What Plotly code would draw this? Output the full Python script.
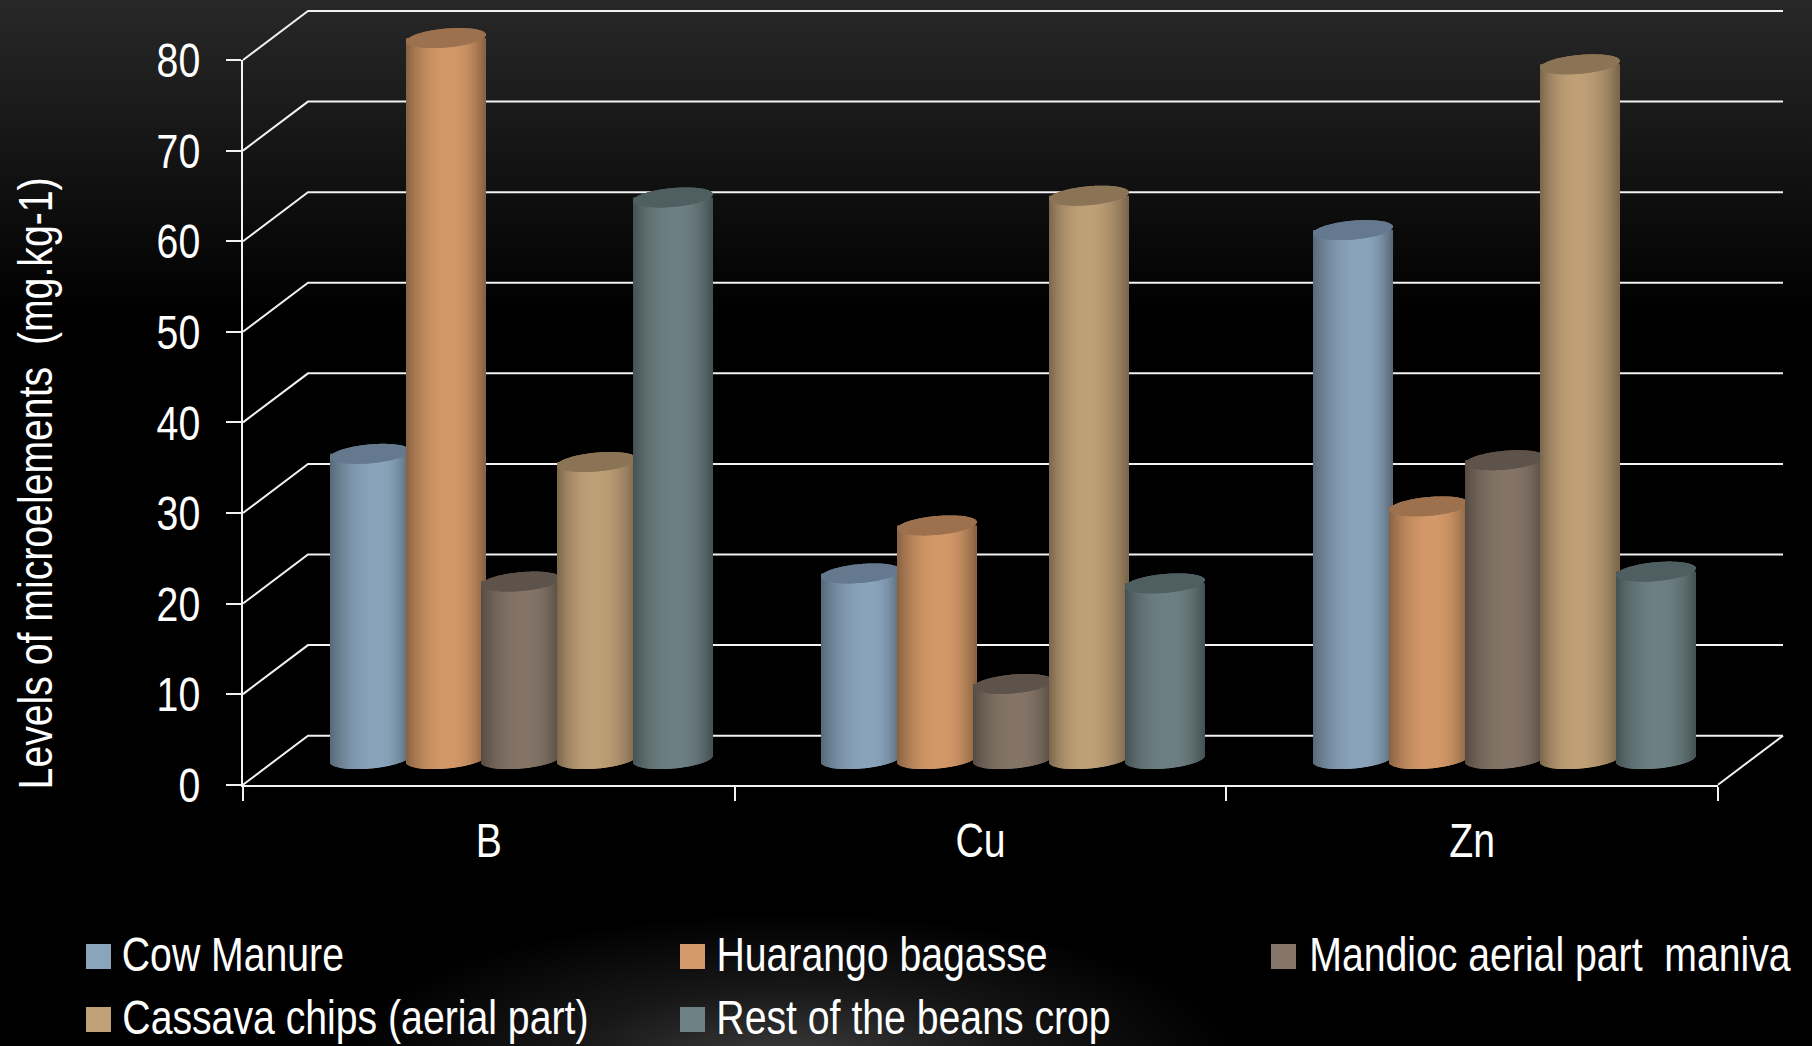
import numpy as np
import plotly.graph_objects as go

# Chart data
categories = ["B", "Cu", "Zn"]
series_names = [
    "Cow Manure",
    "Huarango bagasse",
    "Mandioc aerial part  maniva",
    "Cassava chips (aerial part)",
    "Rest of the beans crop",
]
cow_manure = [33.7, 20.5, 58.4]
huarango_bagasse = [79.6, 25.8, 27.9]
mandioc_maniva = [19.6, 8.3, 33.0]
cassava_chips = [32.8, 62.2, 76.7]
beans_crop = [62.0, 19.4, 20.7]
y_ticks = list(range(0, 90, 10))

series_values = [cow_manure, huarango_bagasse, mandioc_maniva, cassava_chips, beans_crop]
body_rgb = [(138, 164, 188), (212, 153, 104), (133, 117, 104), (191, 160, 119), (109, 128, 131)]
cap_rgb = [(100, 121, 142), (157, 113, 78), (94, 83, 74), (139, 116, 86), (79, 95, 97)]

# Page and plot geometry in pixels
W, H = 1812, 1046
X0, X3 = 243.0, 1718.0
Y80, Y0 = 60.0, 784.7
DEPTH_X, DEPTH_Y = 65.0, 49.0
PX_PER_CAT = (X3 - X0) / 3
PX_PER_UNIT = (Y0 - Y80) / 80
dx_cat = DEPTH_X / PX_PER_CAT
dy_val = DEPTH_Y / PX_PER_UNIT

# Page-wide data ranges, so walls and cylinders can sit beyond the axis box
page_x_range = [-X0 / PX_PER_CAT, (W - X0) / PX_PER_CAT]
page_y_range = [-(H - Y0) / PX_PER_UNIT, Y0 / PX_PER_UNIT]

# Cylinder footprint: a circle on the sheared floor
SPACING = 75.8 / PX_PER_CAT
HALF_W, HALF_DX, HALF_DY = 37.2, 13.3, 10.0
STRIP_PX = 1.0


def ellipse_edges():
    """Lower and upper outline of the floor ellipse, in pixels from its centre."""
    t0 = np.arctan2(HALF_DX, HALF_W)
    t = np.linspace(t0 + np.pi, t0 + 2 * np.pi, 400)
    xl = HALF_W * np.cos(t) + HALF_DX * np.sin(t)
    yl = HALF_DY * np.sin(t)
    half = np.hypot(HALF_W, HALF_DX)
    u = np.arange(-half + STRIP_PX / 2, half, STRIP_PX)
    lower = np.interp(u, xl, yl)
    upper = np.interp(-u, xl, yl) * -1
    return u, lower, upper


U, LOWER, UPPER = ellipse_edges()
HALF = np.hypot(HALF_W, HALF_DX)


def shade(rgb, peak):
    """Horizontal cylinder shading: dark rims and a soft highlight."""
    s = (U + HALF) / (2 * HALF)
    d = np.where(s < peak, (peak - s) / peak, (s - peak) / (1 - peak))
    f = 0.64 + 0.36 * (1 - d ** 2.2)
    return [f"rgb({int(rgb[0] * v)},{int(rgb[1] * v)},{int(rgb[2] * v)})" for v in f]


fig = go.Figure()

# Back wall, side wall and floor rules, all in value units
for v in y_ticks:
    fig.add_trace(go.Scatter(
        x=[0, dx_cat, 3 + dx_cat], y=[v, v + dy_val, v + dy_val],
        mode="lines", line=dict(color="#f2f2f2", width=2),
        showlegend=False, hoverinfo="skip", xaxis="x", yaxis="y",
    ))
fig.add_trace(go.Scatter(
    x=[3, 3 + dx_cat], y=[0, dy_val], mode="lines",
    line=dict(color="#f2f2f2", width=2),
    showlegend=False, hoverinfo="skip", xaxis="x", yaxis="y",
))

# Cylinders, painted left to right so each one overlaps its left neighbour
centre_lift = dy_val / 2 + 0.12
peaks = [0.62, 0.55, 0.55, 0.47, 0.55]
for c in range(len(categories)):
    for k, values in enumerate(series_values):
        value = values[c]
        cx = c + 0.5 + dx_cat / 2 + (k - 2) * SPACING
        xs = cx + U / PX_PER_CAT
        top = centre_lift + value
        base = centre_lift + LOWER / PX_PER_UNIT
        fig.add_trace(go.Bar(
            x=xs, y=top - base, base=base, width=STRIP_PX / PX_PER_CAT,
            marker=dict(color=shade(body_rgb[k], peaks[k]), line=dict(width=0)),
            showlegend=False, hoverinfo="skip", xaxis="x2", yaxis="y2",
        ))
        cap_base = top + LOWER / PX_PER_UNIT
        cap_top = top + UPPER / PX_PER_UNIT
        fig.add_trace(go.Bar(
            x=xs, y=cap_top - cap_base, base=cap_base, width=STRIP_PX / PX_PER_CAT,
            marker=dict(color=[f"rgb{cap_rgb[k]}"] * len(U), line=dict(width=0)),
            showlegend=False, hoverinfo="skip", xaxis="x2", yaxis="y2",
        ))

# Carrier trace for the visible axes
fig.add_trace(go.Scatter(
    x=[0, 3], y=[0, 0], mode="lines", line=dict(width=0, color="rgba(0,0,0,0)"),
    showlegend=False, hoverinfo="skip", xaxis="x3", yaxis="y3",
))

FONT = "Liberation Sans, Arial, sans-serif"
TEXT_SIZE = 49
x_domain = [X0 / W, X3 / W]
y_domain = [1 - Y0 / H, 1 - Y80 / H]
hidden_x = dict(visible=False, fixedrange=True, automargin=False, domain=[0, 1], range=page_x_range)
hidden_y = dict(visible=False, fixedrange=True, automargin=False, domain=[0, 1], range=page_y_range)

# Legend laid out by hand in two rows and three columns
swatch_cells = [(86, 956), (680, 956), (1271, 956), (86, 1019), (680, 1019)]
label_centres = [233.4, 881.7, 1550.2, 355.9, 913.5]
shapes, annotations = [], []
for (lx, ly), cx, name, rgb in zip(swatch_cells, label_centres, series_names, body_rgb):
    shapes.append(dict(
        type="rect", xref="paper", yref="paper",
        x0=lx / W, x1=(lx + 25) / W, y0=1 - (ly + 13) / H, y1=1 - (ly - 12) / H,
        fillcolor=f"rgb{rgb}", line=dict(width=0),
    ))
    annotations.append(dict(
        text=name, xref="paper", yref="paper", x=cx / W, y=1 - (ly - 2) / H,
        xanchor="center", yanchor="middle", showarrow=False,
        font=dict(family=FONT, size=TEXT_SIZE, color="white"),
    ))

annotations.append(dict(
    text="Levels of microelements  (mg.kg-1)", xref="paper", yref="paper",
    x=35 / W, y=1 - 484 / H, textangle=-90, xanchor="center", yanchor="middle",
    showarrow=False, font=dict(family=FONT, size=TEXT_SIZE, color="white"),
))

# Dark backdrop: fade from the top edge and a glow along the bottom edge
backdrop = (
    "data:image/svg+xml;utf8,"
    "<svg xmlns='http://www.w3.org/2000/svg' width='1812' height='1046'>"
    "<defs>"
    "<linearGradient id='t' x1='0' y1='0' x2='0' y2='1'>"
    "<stop offset='0' stop-color='%23282828'/>"
    "<stop offset='0.30' stop-color='%23000000'/>"
    "<stop offset='1' stop-color='%23000000'/>"
    "</linearGradient>"
    "<radialGradient id='g' gradientUnits='userSpaceOnUse' cx='0' cy='0' r='1' "
    "gradientTransform='translate(790 1062) scale(450 150)'>"
    "<stop offset='0' stop-color='%23ffffff' stop-opacity='0.24'/>"
    "<stop offset='0.5' stop-color='%23ffffff' stop-opacity='0.09'/>"
    "<stop offset='1' stop-color='%23ffffff' stop-opacity='0'/>"
    "</radialGradient>"
    "</defs>"
    "<rect width='1812' height='1046' fill='url(%23t)'/>"
    "<rect width='1812' height='1046' fill='url(%23g)'/>"
    "</svg>"
)

fig.update_layout(
    width=W, height=H, autosize=False,
    margin=dict(l=0, r=0, t=0, b=0),
    paper_bgcolor="black", plot_bgcolor="rgba(0,0,0,0)",
    barmode="overlay", showlegend=False,
    font=dict(family=FONT, color="white"),
    images=[dict(source=backdrop, xref="paper", yref="paper", x=0, y=1,
                 sizex=1, sizey=1, xanchor="left", yanchor="top",
                 sizing="stretch", layer="below")],
    shapes=shapes, annotations=annotations,
    xaxis=dict(anchor="y", **hidden_x),
    yaxis=dict(anchor="x", **hidden_y),
    xaxis2=dict(anchor="y2", **hidden_x),
    yaxis2=dict(anchor="x2", **hidden_y),
    xaxis3=dict(
        domain=x_domain, range=[0, 3], anchor="y3", fixedrange=True, automargin=False,
        tickmode="array", tickvals=[0.5, 1.5, 2.5], ticktext=categories,
        ticks="", showgrid=False, zeroline=False,
        showline=True, linecolor="#f2f2f2", linewidth=2,
        tickfont=dict(family=FONT, size=TEXT_SIZE, color="white"),
        ticklabelstandoff=12,
        minor=dict(ticks="outside", ticklen=14, tickwidth=2, tickcolor="#f2f2f2",
                   tick0=0, dtick=1, showgrid=False),
    ),
    yaxis3=dict(
        domain=y_domain, range=[0, 80], anchor="x3", fixedrange=True, automargin=False,
        tickmode="array", tickvals=y_ticks, ticks="outside", ticklen=15,
        tickwidth=2, tickcolor="#f2f2f2", showgrid=False, zeroline=False,
        showline=True, linecolor="#f2f2f2", linewidth=2,
        tickfont=dict(family=FONT, size=TEXT_SIZE, color="white"),
        ticklabelstandoff=16,
    ),
)

# Condense the lettering along its baseline; every label stays live text
condense_text = """
document.querySelectorAll('[class*="tick"] text, .annotation-text').forEach(function (t) {
    var x = t.getAttribute('x') || 0, y = t.getAttribute('y') || 0;
    var prior = t.getAttribute('transform') || '';
    t.setAttribute('transform', prior + ' translate(' + x + ',' + y + ') scale(0.8,1) translate(' + (-x) + ',' + (-y) + ')');
});
"""

fig.write_html("out.html", config=dict(displayModeBar=False), post_script=condense_text)
